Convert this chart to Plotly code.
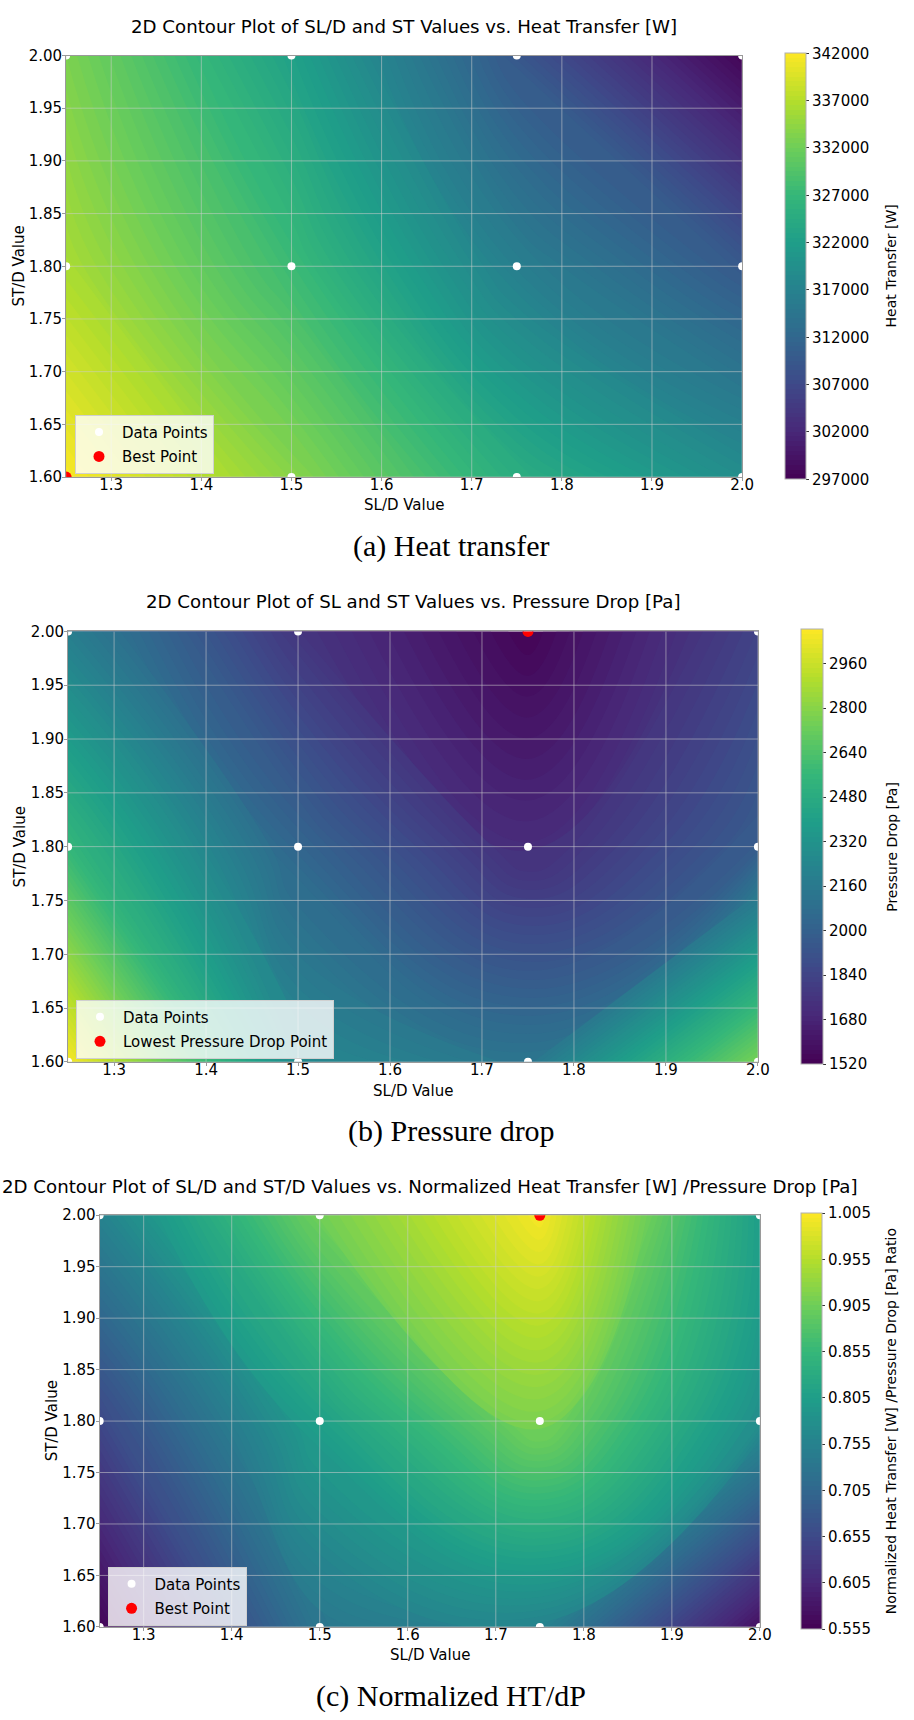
import plotly.graph_objects as go

# Tube-bank layout grid: longitudinal (SL/D) and transverse (ST/D) pitch ratios
sl_values = [1.25, 1.5, 1.75, 2.0]
st_values = [1.6, 1.8, 2.0]

# Rows follow st_values, columns follow sl_values
heat_transfer = [
    [341800, 333900, 324900, 319000],
    [336150, 327600, 316350, 309600],
    [333000, 322600, 309200, 297500],
]
pressure_drop = [
    [3070, 2260, 2130, 2760],
    [2555, 2030, 1715, 1975],
    [2190, 1765, 1535, 1835],
]
normalized_ratio = [
    [0.560, 0.734, 0.757, 0.574],
    [0.653, 0.808, 0.916, 0.778],
    [0.755, 0.907, 1.000, 0.805],
]

x_ticks = [1.3, 1.4, 1.5, 1.6, 1.7, 1.8, 1.9, 2.0]
y_ticks = [1.60, 1.65, 1.70, 1.75, 1.80, 1.85, 1.90, 1.95, 2.00]
ht_ticks = [297000, 302000, 307000, 312000, 317000, 322000, 327000, 332000, 337000, 342000]
dp_ticks = [1520, 1680, 1840, 2000, 2160, 2320, 2480, 2640, 2800, 2960]
ratio_ticks = [0.555, 0.605, 0.655, 0.705, 0.755, 0.805, 0.855, 0.905, 0.955, 1.005]

W, H = 914, 1720
SANS = "DejaVu Sans"
N_LEVELS = 90


def px_x(p):
    return p / W


def px_y(p):
    return 1 - p / H


def locate(z, pick):
    flat = [(z[i][j], i, j) for i in range(len(st_values)) for j in range(len(sl_values))]
    v, i, j = pick(flat, key=lambda t: t[0])
    return sl_values[j], st_values[i]


panels = [
    dict(z=heat_transfer, pick=max, zmin=297000, zmax=342000, cticks=ht_ticks, cfmt="d",
         title="2D Contour Plot of SL/D and ST Values vs. Heat Transfer [W]",
         cbar_title="Heat Transfer [W]", best_name="Best Point", caption="(a) Heat transfer",
         box=(67, 752, 47, 473), cbx=795, cbw=21, ylab_x=19.5, xlab_y=501, title_y=18,
         caption_y=543, legend=(76, 410)),
    dict(z=pressure_drop, pick=min, zmin=1520, zmax=3084, cticks=dp_ticks, cfmt="d",
         title="2D Contour Plot of SL and ST Values vs. Pressure Drop [Pa]",
         cbar_title="Pressure Drop [Pa]", best_name="Lowest Pressure Drop Point",
         caption="(b) Pressure drop",
         box=(69, 768, 629, 1064), cbx=812, cbw=22, ylab_x=20, xlab_y=1093, title_y=599,
         caption_y=1134, legend=(77, 1001)),
    dict(z=normalized_ratio, pick=max, zmin=0.555, zmax=1.005, cticks=ratio_ticks, cfmt=".3f",
         title="2D Contour Plot of SL/D and ST/D Values vs. Normalized Heat Transfer [W] /Pressure Drop [Pa]",
         cbar_title="Normalized Heat Transfer [W] /Pressure Drop [Pa] Ratio", best_name="Best Point",
         caption="(c) Normalized HT/dP",
         box=(101, 770, 1219, 1635), cbx=812, cbw=21, ylab_x=53, xlab_y=1663, title_y=1190,
         caption_y=1705, legend=(109, 1574)),
]

fig = go.Figure()
annotations = []
layout_axes = {}

grid_color = "rgba(205,205,205,0.55)"
spine_color = "#9a9a9a"

for k, p in enumerate(panels):
    n = "" if k == 0 else str(k + 1)
    xa, ya = "x" + n, "y" + n
    legend_id = "legend" + n
    left, right, top, bottom = p["box"]

    fig.add_trace(go.Contour(
        x=sl_values, y=st_values, z=p["z"], xaxis=xa, yaxis=ya,
        colorscale="Viridis", zmin=p["zmin"], zmax=p["zmax"], zauto=False,
        autocontour=False,
        contours=dict(coloring="fill", showlines=False, start=p["zmin"], end=p["zmax"],
                      size=(p["zmax"] - p["zmin"]) / N_LEVELS),
        line=dict(width=0, smoothing=1.3), showlegend=False, hoverinfo="skip",
        colorbar=dict(
            x=px_x(p["cbx"]), xanchor="left", xpad=0,
            y=px_y((top + bottom) / 2), yanchor="middle", ypad=0,
            len=bottom - top, lenmode="pixels",
            thickness=p["cbw"], thicknessmode="pixels",
            outlinewidth=1, outlinecolor="#b0b0b0",
            ticks="outside", ticklen=3, tickcolor="#333333",
            tickvals=p["cticks"], tickformat=p["cfmt"],
            tickfont=dict(family=SANS, size=15, color="black"),
        ),
    ))

    # grid drawn over the filled field, under the markers
    gx, gy = [], []
    for t in x_ticks:
        gx += [t, t, None]
        gy += [st_values[0], st_values[-1], None]
    for t in y_ticks:
        gx += [sl_values[0], sl_values[-1], None]
        gy += [t, t, None]
    fig.add_trace(go.Scatter(x=gx, y=gy, mode="lines", xaxis=xa, yaxis=ya,
                             line=dict(color=grid_color, width=1),
                             showlegend=False, hoverinfo="skip"))

    px_list = [sx for sy in st_values for sx in sl_values]
    py_list = [sy for sy in st_values for sx in sl_values]
    fig.add_trace(go.Scatter(x=px_list, y=py_list, mode="markers", xaxis=xa, yaxis=ya,
                             name="Data Points", legend=legend_id, legendgroup="d" + n,
                             marker=dict(color="white", size=8, line=dict(width=0))))
    bx, by = locate(p["z"], p["pick"])
    fig.add_trace(go.Scatter(x=[bx], y=[by], mode="markers", xaxis=xa, yaxis=ya,
                             name=p["best_name"], legend=legend_id, legendgroup="b" + n,
                             marker=dict(color="red", size=11, line=dict(width=0))))

    axis_common = dict(showgrid=False, zeroline=False, showline=True, mirror=True,
                       linecolor=spine_color, linewidth=1, ticks="outside", ticklen=3,
                       tickcolor=spine_color, layer="above traces",
                       tickfont=dict(family=SANS, size=15, color="black"))
    layout_axes["xaxis" + n] = dict(axis_common, domain=[px_x(left), px_x(right)],
                                    anchor=ya, range=[sl_values[0], sl_values[-1]],
                                    tickvals=x_ticks, tickformat=".1f",
                                    ticklabelstandoff=-9)
    layout_axes["yaxis" + n] = dict(axis_common, domain=[px_y(bottom), px_y(top)],
                                    anchor=xa, range=[st_values[0], st_values[-1]],
                                    tickvals=y_ticks, tickformat=".2f",
                                    ticklabelstandoff=-3)

    layout_axes[legend_id] = dict(
        x=px_x(p["legend"][0]), y=px_y(p["legend"][1]), xanchor="left", yanchor="top",
        bgcolor="rgba(255,255,255,0.8)", bordercolor="#d0d0d0", borderwidth=1,
        font=dict(family=SANS, size=15, color="black"), tracegroupgap=2, itemwidth=36,
    )

    cx = (left + right) / 2
    annotations += [
        dict(text=p["title"], x=px_x(cx), y=px_y(p["title_y"]), xref="paper", yref="paper",
             showarrow=False, xanchor="center", yanchor="middle",
             font=dict(family=SANS, size=18.2, color="black")),
        dict(text="ST/D Value", x=px_x(p["ylab_x"]), y=px_y((top + bottom) / 2),
             xref="paper", yref="paper", showarrow=False, textangle=-90,
             xanchor="center", yanchor="middle", font=dict(family=SANS, size=15, color="black")),
        dict(text="SL/D Value", x=px_x(cx), y=px_y(p["xlab_y"]), xref="paper", yref="paper",
             showarrow=False, xanchor="center", yanchor="middle",
             font=dict(family=SANS, size=15, color="black")),
        dict(text=p["cbar_title"], x=px_x(903), y=px_y((top + bottom) / 2),
             xref="paper", yref="paper", showarrow=False, textangle=-90,
             xanchor="center", yanchor="middle", font=dict(family=SANS, size=14, color="black")),
        dict(text=p["caption"], x=0.5, y=px_y(p["caption_y"]), xref="paper", yref="paper",
             showarrow=False, xanchor="center", yanchor="middle",
             font=dict(family="Liberation Serif", size=30, color="black")),
    ]

fig.update_layout(
    width=W, height=H, margin=dict(l=0, r=0, t=0, b=0),
    paper_bgcolor="white", plot_bgcolor="white",
    showlegend=True, annotations=annotations, **layout_axes,
)

fig.write_html("out.html")
